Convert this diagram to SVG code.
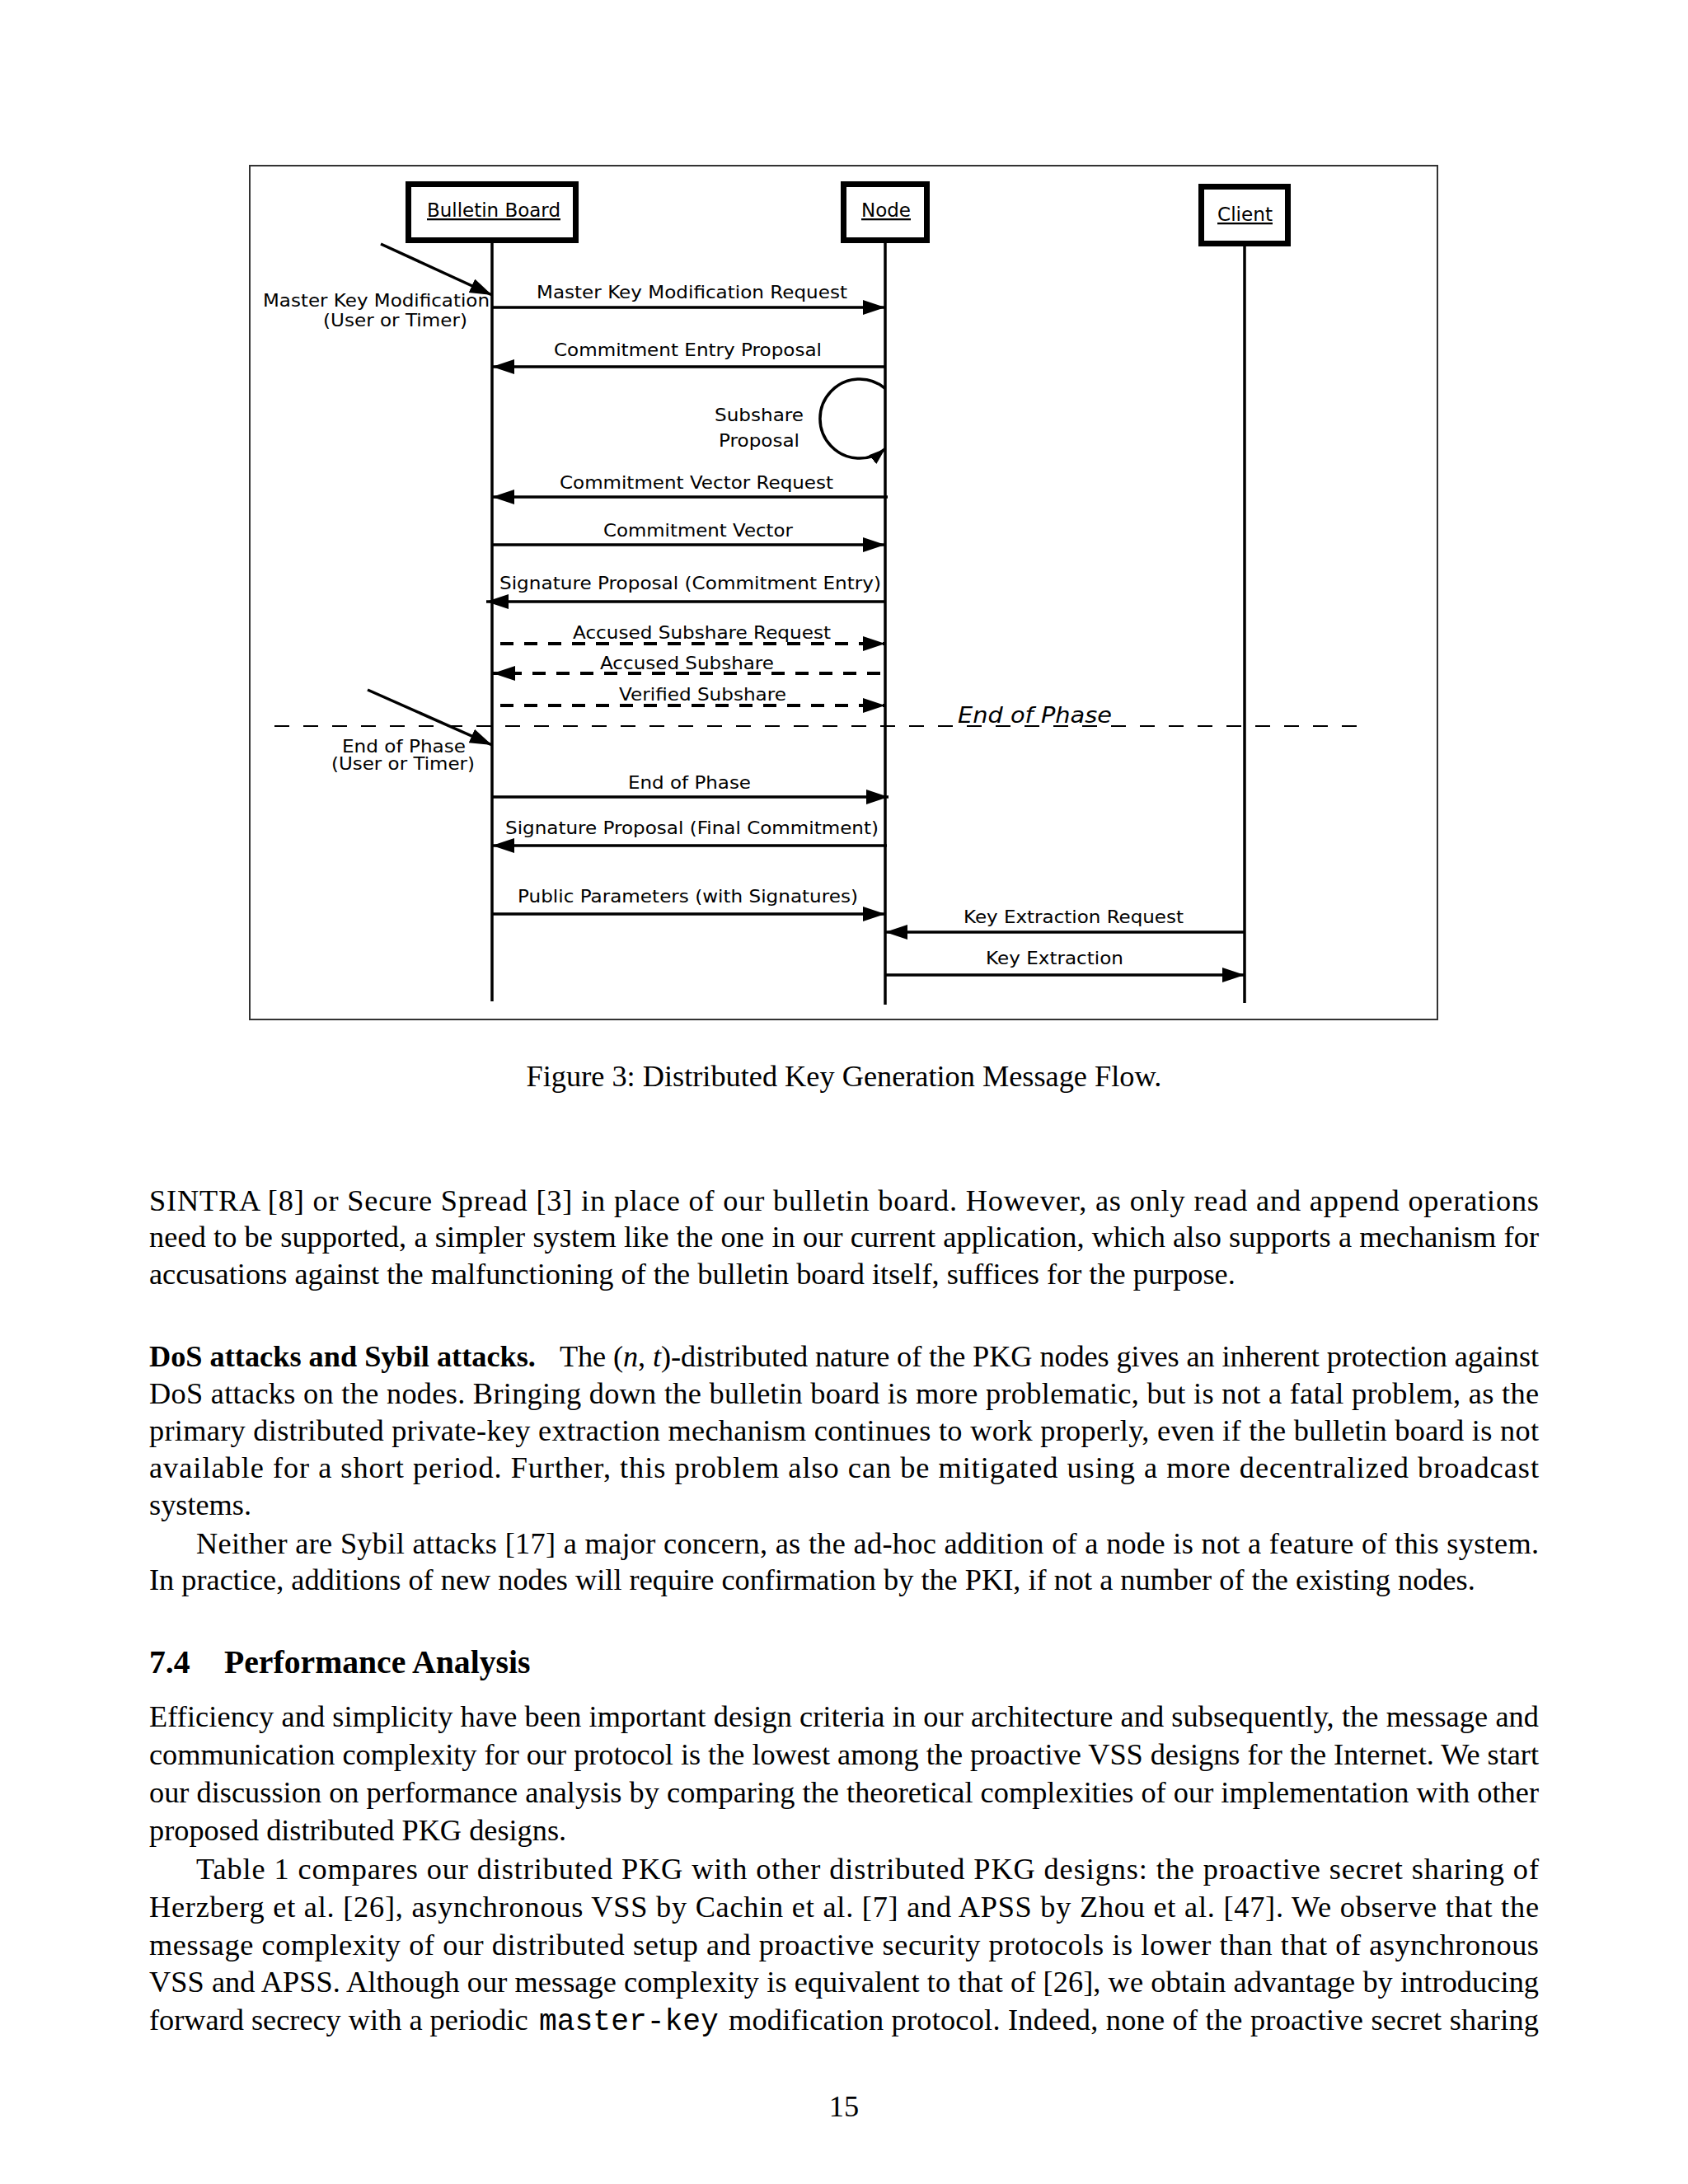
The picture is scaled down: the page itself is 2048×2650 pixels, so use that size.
<svg xmlns="http://www.w3.org/2000/svg" width="2048" height="2650" viewBox="0 0 2048 2650">
<style>
.lbl{font-family:"DejaVu Sans","Noto Sans",sans-serif;font-size:21px;fill:#000}
.eop{font-family:"DejaVu Sans","Noto Sans",sans-serif;font-size:27px;font-style:italic;fill:#000}
.hdr{font-family:"DejaVu Sans","Noto Sans",sans-serif;font-size:23px;fill:#000;text-decoration:underline}
.box{fill:#fff;stroke:#000;stroke-width:7}
.life{stroke:#000;stroke-width:3.5;fill:none}
.msg{stroke:#000;stroke-width:3.5;fill:none;marker-end:url(#ah)}
.dash{stroke-dasharray:16 13;stroke-width:4}
.body{font-family:"Liberation Serif","Times New Roman",serif;font-size:36.3px;fill:#000}
.h2{font-family:"Liberation Serif","Times New Roman",serif;font-size:39.7px;font-weight:bold;fill:#000}
.mono{font-family:"Liberation Mono","Courier New",monospace;font-size:36.3px;fill:#000}
</style>
<defs>
<marker id="ah" markerUnits="userSpaceOnUse" markerWidth="28" markerHeight="20" refX="27" refY="9" orient="auto"><path d="M0,0 L27,9 L0,18 z" fill="#000"/></marker>
<marker id="ah2" markerUnits="userSpaceOnUse" markerWidth="22" markerHeight="16" refX="20" refY="7" orient="auto"><path d="M0,0 L20,7 L0,14 z" fill="#000"/></marker>
</defs>
<rect x="0" y="0" width="2048" height="2650" fill="#fff"/>

<g id="frame"><rect x="303" y="201" width="1441" height="1036" fill="none" stroke="#333" stroke-width="2"/></g>

<g id="bulletin-board">
<rect class="box" x="495.5" y="223.5" width="203" height="68"/>
<text class="hdr" x="518" y="263" textLength="162" lengthAdjust="spacingAndGlyphs">Bulletin Board</text>
<line class="life" x1="597" y1="295" x2="597" y2="1215"/>
</g>
<g id="node">
<rect class="box" x="1023.5" y="223.5" width="101" height="68"/>
<text class="hdr" x="1045" y="263" textLength="60" lengthAdjust="spacingAndGlyphs">Node</text>
<line class="life" x1="1074" y1="295" x2="1074" y2="1219"/>
</g>
<g id="client">
<rect class="box" x="1457.5" y="226.5" width="105" height="69"/>
<text class="hdr" x="1477" y="268" textLength="67" lengthAdjust="spacingAndGlyphs">Client</text>
<line class="life" x1="1510" y1="299" x2="1510" y2="1217"/>
</g>

<g id="connectors">
<line class="msg" x1="462" y1="296" x2="597" y2="358"/>
<line class="msg" x1="597" y1="373" x2="1074" y2="373"/>
<line class="msg" x1="1074" y1="445" x2="597" y2="445"/>
<path class="msg" style="marker-end:url(#ah2)" d="M1074,471.4 A48,48 0 1 0 1074,544.6"/>
<line class="msg" x1="1077" y1="603" x2="597" y2="603"/>
<line class="msg" x1="597" y1="661" x2="1074" y2="661"/>
<line class="msg" x1="1074" y1="730" x2="590" y2="730"/>
<line class="msg dash" x1="607" y1="781" x2="1074" y2="781"/>
<line class="msg dash" x1="1068" y1="817" x2="598" y2="817"/>
<line class="msg dash" x1="607" y1="856" x2="1074" y2="856"/>
<line x1="333" y1="881" x2="1660" y2="881" stroke="#000" stroke-width="2" stroke-dasharray="18 17"/>
<line class="msg" x1="446" y1="837" x2="597" y2="904"/>
<line class="msg" x1="597" y1="967" x2="1078" y2="967"/>
<line class="msg" x1="1076" y1="1026" x2="597" y2="1026"/>
<line class="msg" x1="597" y1="1109" x2="1074" y2="1109"/>
<line class="msg" x1="1510" y1="1131" x2="1074" y2="1131"/>
<line class="msg" x1="1074" y1="1183" x2="1510" y2="1183"/>
</g>

<g id="labels">
<text class="lbl" x="319" y="372" textLength="275" lengthAdjust="spacingAndGlyphs">Master Key Modification</text>
<text class="lbl" x="392" y="396" textLength="175" lengthAdjust="spacingAndGlyphs">(User or Timer)</text>
<text class="lbl" x="651" y="362" textLength="377" lengthAdjust="spacingAndGlyphs">Master Key Modification Request</text>
<text class="lbl" x="672" y="432" textLength="325" lengthAdjust="spacingAndGlyphs">Commitment Entry Proposal</text>
<text class="lbl" x="867" y="511" textLength="108" lengthAdjust="spacingAndGlyphs">Subshare</text>
<text class="lbl" x="872" y="542" textLength="98" lengthAdjust="spacingAndGlyphs">Proposal</text>
<text class="lbl" x="679" y="593" textLength="332" lengthAdjust="spacingAndGlyphs">Commitment Vector Request</text>
<text class="lbl" x="732" y="651" textLength="230" lengthAdjust="spacingAndGlyphs">Commitment Vector</text>
<text class="lbl" x="606" y="715" textLength="463" lengthAdjust="spacingAndGlyphs">Signature Proposal (Commitment Entry)</text>
<text class="lbl" x="695" y="775" textLength="313" lengthAdjust="spacingAndGlyphs">Accused Subshare Request</text>
<text class="lbl" x="728" y="812" textLength="211" lengthAdjust="spacingAndGlyphs">Accused Subshare</text>
<text class="lbl" x="751" y="850" textLength="203" lengthAdjust="spacingAndGlyphs">Verified Subshare</text>
<text class="eop" x="1162" y="877" textLength="187" lengthAdjust="spacingAndGlyphs">End of Phase</text>
<text class="lbl" x="415" y="913" textLength="150" lengthAdjust="spacingAndGlyphs">End of Phase</text>
<text class="lbl" x="402" y="934" textLength="174" lengthAdjust="spacingAndGlyphs">(User or Timer)</text>
<text class="lbl" x="762" y="957" textLength="149" lengthAdjust="spacingAndGlyphs">End of Phase</text>
<text class="lbl" x="613" y="1012" textLength="453" lengthAdjust="spacingAndGlyphs">Signature Proposal (Final Commitment)</text>
<text class="lbl" x="628" y="1095" textLength="413" lengthAdjust="spacingAndGlyphs">Public Parameters (with Signatures)</text>
<text class="lbl" x="1169" y="1120" textLength="267" lengthAdjust="spacingAndGlyphs">Key Extraction Request</text>
<text class="lbl" x="1196" y="1170" textLength="167" lengthAdjust="spacingAndGlyphs">Key Extraction</text>
</g>

<g id="page-text">
<text class="body" x="1024" y="1318" text-anchor="middle">Figure 3: Distributed Key Generation Message Flow.</text>
<text class="body" x="181" y="1469" textLength="1686" lengthAdjust="spacing">SINTRA [8] or Secure Spread [3] in place of our bulletin board.  However, as only read and append operations</text>
<text class="body" x="181" y="1513" textLength="1686" lengthAdjust="spacing">need to be supported, a simpler system like the one in our current application, which also supports a mechanism for</text>
<text class="body" x="181" y="1558">accusations against the malfunctioning of the bulletin board itself, suffices for the purpose.</text>
<text class="body" x="181" y="1658" font-weight="bold">DoS attacks and Sybil attacks.</text>
<text class="body" x="679" y="1658" textLength="1188" lengthAdjust="spacing">The (<tspan font-style="italic">n</tspan>, <tspan font-style="italic">t</tspan>)-distributed nature of the PKG nodes gives an inherent protection against</text>
<text class="body" x="181" y="1703" textLength="1686" lengthAdjust="spacing">DoS attacks on the nodes. Bringing down the bulletin board is more problematic, but is not a fatal problem, as the</text>
<text class="body" x="181" y="1748" textLength="1686" lengthAdjust="spacing">primary distributed private-key extraction mechanism continues to work properly, even if the bulletin board is not</text>
<text class="body" x="181" y="1793" textLength="1686" lengthAdjust="spacing">available for a short period.  Further, this problem also can be mitigated using a more decentralized broadcast</text>
<text class="body" x="181" y="1838">systems.</text>
<text class="body" x="238" y="1885" textLength="1629" lengthAdjust="spacing">Neither are Sybil attacks [17] a major concern, as the ad-hoc addition of a node is not a feature of this system.</text>
<text class="body" x="181" y="1929">In practice, additions of new nodes will require confirmation by the PKI, if not a number of the existing nodes.</text>
<text class="h2" x="181" y="2030">7.4</text>
<text class="h2" x="272" y="2030">Performance Analysis</text>
<text class="body" x="181" y="2095" textLength="1686" lengthAdjust="spacing">Efficiency and simplicity have been important design criteria in our architecture and subsequently, the message and</text>
<text class="body" x="181" y="2141" textLength="1686" lengthAdjust="spacing">communication complexity for our protocol is the lowest among the proactive VSS designs for the Internet. We start</text>
<text class="body" x="181" y="2187" textLength="1686" lengthAdjust="spacing">our discussion on performance analysis by comparing the theoretical complexities of our implementation with other</text>
<text class="body" x="181" y="2233">proposed distributed PKG designs.</text>
<text class="body" x="238" y="2280" textLength="1629" lengthAdjust="spacing">Table 1 compares our distributed PKG with other distributed PKG designs:  the proactive secret sharing of</text>
<text class="body" x="181" y="2326" textLength="1686" lengthAdjust="spacing">Herzberg et al. [26], asynchronous VSS by Cachin et al. [7] and APSS by Zhou et al. [47].  We observe that the</text>
<text class="body" x="181" y="2372" textLength="1686" lengthAdjust="spacing">message complexity of our distributed setup and proactive security protocols is lower than that of asynchronous</text>
<text class="body" x="181" y="2417" textLength="1686" lengthAdjust="spacing">VSS and APSS. Although our message complexity is equivalent to that of [26], we obtain advantage by introducing</text>
<text class="body" x="181" y="2463">forward secrecy with a periodic</text>
<text class="mono" x="654" y="2463">master-key</text>
<text class="body" x="884" y="2463" textLength="983" lengthAdjust="spacing">modification protocol.  Indeed, none of the proactive secret sharing</text>
<text class="body" x="1024" y="2568" text-anchor="middle">15</text>
</g>
</svg>
